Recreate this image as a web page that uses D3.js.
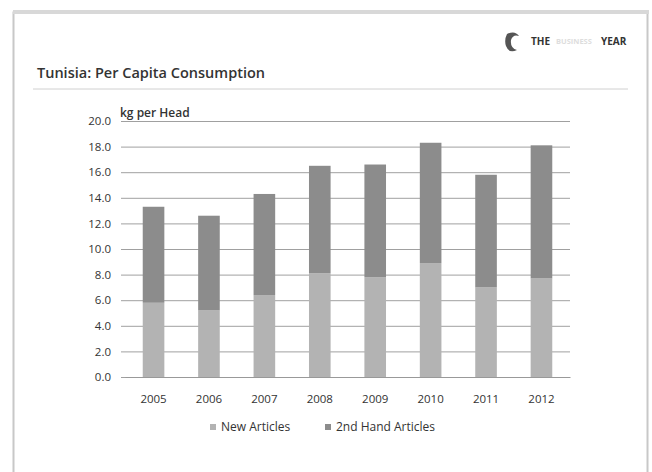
<!DOCTYPE html>
<html>
<head>
<meta charset="utf-8">
<script src="https://cdn.jsdelivr.net/npm/d3@7"></script>
<style>
  body { margin: 0; background: #fff; }
  text { font-family: "Open Sans", "DejaVu Sans", sans-serif; }
</style>
</head>
<body>
<div id="chart"></div>
<script>
// data
const years = ["2005", "2006", "2007", "2008", "2009", "2010", "2011", "2012"];
const newArticles = [5.8, 5.2, 6.4, 8.1, 7.8, 8.9, 7.0, 7.7];
const secondHand = [7.5, 7.4, 7.9, 8.4, 8.8, 9.4, 8.8, 10.4];
const yTicks = [0, 2, 4, 6, 8, 10, 12, 14, 16, 18, 20];
const seriesNames = ["New Articles", "2nd Hand Articles"];
const colors = ["#b3b3b3", "#8c8c8c"];

const W = 652, H = 472;
const margin = { top: 121, right: 82, bottom: 95, left: 125 },
    width = W - margin.left - margin.right,
    height = H - margin.top - margin.bottom;

const root = d3.select("#chart")
    .append("svg")
    .attr("width", W)
    .attr("height", H);

// frame
root.append("rect")
    .attr("x", 13.5).attr("y", 12.5)
    .attr("width", 634).attr("height", 480)
    .attr("fill", "none")
    .attr("stroke", "#c8c8c8")
    .attr("stroke-width", 2);
root.append("rect")
    .attr("x", 13).attr("y", 10)
    .attr("width", 636).attr("height", 4)
    .attr("fill", "#d8d8d8");

// title + rule
root.append("text")
    .attr("x", 37).attr("y", 78)
    .attr("font-size", 14.5)
    .attr("font-weight", 600)
    .attr("fill", "#333")
    .text("Tunisia: Per Capita Consumption");
root.append("line")
    .attr("x1", 33).attr("x2", 628)
    .attr("y1", 89).attr("y2", 89)
    .attr("stroke", "#d0d0d0");

// logo
const logo = root.append("g").attr("transform", "translate(505,40)");
logo.append("path")
    .attr("d", "M2,-6 Q10,-10 14,-4 Q8,-6 6,0 Q5,8 12,10 Q4,14 1,6 Q-1,0 2,-6Z")
    .attr("fill", "#555");
logo.append("text")
    .attr("x", 26).attr("y", 5)
    .attr("font-size", 10).attr("font-weight", 700)
    .attr("fill", "#333")
    .text("THE");
logo.append("text")
    .attr("x", 51).attr("y", 4)
    .attr("font-size", 7.5).attr("font-weight", 700)
    .attr("fill", "#ddd")
    .text("BUSINESS");
logo.append("text")
    .attr("x", 96).attr("y", 5)
    .attr("font-size", 10).attr("font-weight", 700)
    .attr("fill", "#333")
    .text("YEAR");

const svg = root.append("g")
    .attr("transform", `translate(${margin.left},${margin.top})`);

const x = d3.scaleBand()
    .domain(years)
    .range([0, width])
    .paddingInner(0.61)
    .paddingOuter(0.32);

const y = d3.scaleLinear()
    .domain([0, 20])
    .range([height, 0]);

// gridlines
svg.append("g")
    .call(d3.axisLeft(y).tickValues(yTicks).tickSize(-width - 4).tickFormat(""))
    .attr("transform", "translate(-4,0)")
    .call(g => g.select(".domain").remove())
    .selectAll("line")
    .attr("stroke", "#a0a0a0");

// y labels
svg.append("g")
    .call(d3.axisLeft(y).tickValues(yTicks).tickSize(0).tickPadding(14).tickFormat(d3.format(".1f")))
    .call(g => g.select(".domain").remove())
    .selectAll("text")
    .attr("font-size", 11.5)
    .attr("fill", "#333");

svg.append("text")
    .attr("x", -5).attr("y", -4)
    .attr("font-size", 12)
    .attr("font-weight", 600)
    .attr("fill", "#333")
    .text("kg per Head");

// stacked bars
const rows = years.map((yr, i) => ({ year: yr, n: newArticles[i], s: secondHand[i] }));
const stacked = d3.stack().keys(["n", "s"])(rows);

svg.selectAll("g.layer")
    .data(stacked)
    .join("g")
    .attr("class", "layer")
    .attr("fill", (d, i) => colors[i])
    .selectAll("rect")
    .data(d => d)
    .join("rect")
    .attr("x", d => x(d.data.year))
    .attr("width", x.bandwidth())
    .attr("y", d => y(d[1]))
    .attr("height", d => y(d[0]) - y(d[1]));

// x axis
svg.append("g")
    .attr("transform", `translate(0,${height})`)
    .call(d3.axisBottom(x).tickSize(0).tickPadding(18))
    .call(g => g.select(".domain").attr("stroke", "#999"))
    .selectAll("text")
    .attr("font-size", 11.5)
    .attr("fill", "#333");

// legend
const legend = root.append("g").attr("transform", "translate(210,427)");
const lx = [0, 115];
seriesNames.forEach((name, i) => {
    legend.append("rect")
        .attr("x", lx[i]).attr("y", -3)
        .attr("width", 6).attr("height", 6)
        .attr("fill", colors[i]);
    legend.append("text")
        .attr("x", lx[i] + 11).attr("y", 0)
        .attr("dy", "0.35em")
        .attr("font-size", 12)
        .attr("fill", "#333")
        .text(name);
});
</script>
</body>
</html>
